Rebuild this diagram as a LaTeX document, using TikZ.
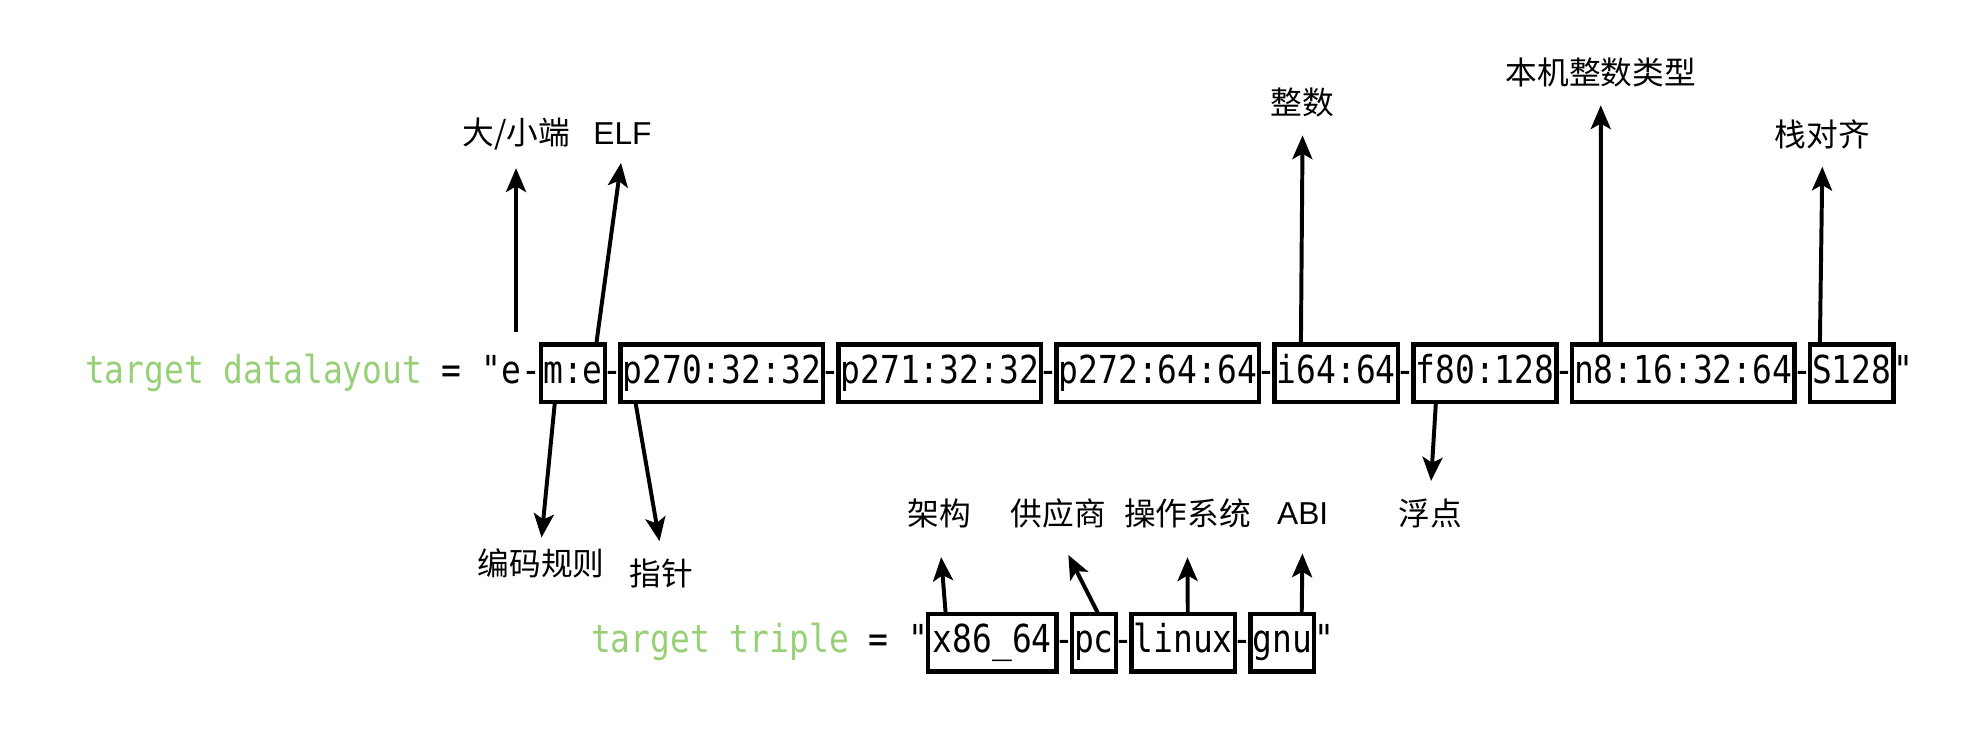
\documentclass[tikz,border=0pt]{standalone}
\usepackage{fontspec}
\setmainfont{Liberation Sans}
\newfontfamily\cjkfont{Noto Sans CJK SC}
\newfontfamily\codefont[FakeStretch=0.855]{DejaVu Sans Mono}
\usepackage{tikz}
\usetikzlibrary{positioning,calc,arrows.meta}
\definecolor{kwgreen}{HTML}{97D077}

\tikzset{
  code/.style={inner xsep=0pt, inner ysep=0pt, outer sep=0pt, text height=13pt, text depth=4pt,
    font=\codefont\fontsize{17.5}{20}\selectfont},
  seg/.style={code, draw, line width=2pt, inner xsep=1pt, minimum height=0.92cm},
  joint/.style={code, inner xsep=-1pt},
  lbl/.style={inner sep=3pt, font=\cjkfont\fontsize{14.4}{17}\selectfont},
  latin/.style={inner sep=3pt, font=\fontsize{14.4}{17}\selectfont},
  arr/.style={-{Stealth[length=3.8mm,width=3.2mm,inset=0.9mm]}, line width=1.8pt, shorten >=5pt}
}

\begin{document}
\begin{tikzpicture}[x=0.02cm,y=-0.02cm]
  \useasboundingbox (0,0) rectangle (1568,594);

  % datalayout
  \node[seg,anchor=west] (me) at (432,298) {m:e};
  \node[code] (dlpre) [left=0pt of me] {{\color{kwgreen}target datalayout} = "e-};
  \node[joint] (j1) [right=0pt of me] {-};
  \node[seg] (p270) [right=0pt of j1] {p270:32:32};
  \node[joint] (j2) [right=0pt of p270] {-};
  \node[seg] (p271) [right=0pt of j2] {p271:32:32};
  \node[joint] (j3) [right=0pt of p271] {-};
  \node[seg] (p272) [right=0pt of j3] {p272:64:64};
  \node[joint] (j4) [right=0pt of p272] {-};
  \node[seg] (i64) [right=0pt of j4] {i64:64};
  \node[joint] (j5) [right=0pt of i64] {-};
  \node[seg] (f80) [right=0pt of j5] {f80:128};
  \node[joint] (j6) [right=0pt of f80] {-};
  \node[seg] (n8) [right=0pt of j6] {n8:16:32:64};
  \node[joint] (j7) [right=0pt of n8] {-};
  \node[seg] (s128) [right=0pt of j7] {S128};
  \node[code] (dlend) [right=0pt of s128] {"};

  % triple
  \node[seg,anchor=west,minimum width=2.05cm] (x86) at (741,513) {x86\_64};
  \node[code] (trpre) [left=0pt of x86] {{\color{kwgreen}target triple} = "};
  \node[joint] (k1) [right=0pt of x86] {-};
  \node[seg] (pc) [right=0pt of k1] {pc};
  \node[joint] (k2) [right=0pt of pc] {-};
  \node[seg] (linux) [right=0pt of k2] {linux};
  \node[joint] (k3) [right=0pt of linux] {-};
  \node[seg] (gnu) [right=0pt of k3] {gnu};
  \node[code] (trend) [right=0pt of gnu] {"};

  % labels
  \node[lbl] (endian) at (412,107) {大/小端};
  \node[latin] (elf) at (497,107) {ELF};
  \node[lbl] (int) at (1040,82) {整数};
  \node[lbl] (native) at (1278,58) {本机整数类型};
  \node[lbl] (stack) at (1455,107) {栈对齐};
  \node[lbl] (enc) at (432,450) {编码规则};
  \node[lbl] (ptr) at (528,458) {指针};
  \node[lbl] (float) at (1142,410) {浮点};
  \node[lbl] (arch) at (750,410) {架构};
  \node[lbl] (vendor) at (845,410) {供应商};
  \node[lbl] (os) at (948,410) {操作系统};
  \node[latin] (abi) at (1040,410) {ABI};

  \coordinate (endianpt) at ($(me.north west)+(-20,-10)$);

  \path[arr]
  (endianpt) edge (endian.south)
  ($(me.north east)+(-7,0)$) edge (elf.south)
  ($(me.south west)+(11,0)$) edge [shorten >=2pt] (enc.north)
  ($(p270.south west)+(12,0)$) edge (ptr.north)
  ($(i64.north west)+(21,0)$) edge (int.south)
  ($(f80.south west)+(18,0)$) edge (float.north)
  ($(n8.north west)+(23,0)$) edge (native.south)
  ($(s128.north west)+(8,0)$) edge (stack.south)
  ($(x86.north west)+(14,0)$) edge [shorten >=10pt] (arch.south)
  ($(pc.north west)+(21,0)$) edge [shorten >=10pt] (vendor.south)
  ($(linux.north west)+(45,0)$) edge [shorten >=10pt] (os.south)
  ($(gnu.north west)+(41,0)$) edge [shorten >=10pt] (abi.south)
  ;
\end{tikzpicture}
\end{document}
